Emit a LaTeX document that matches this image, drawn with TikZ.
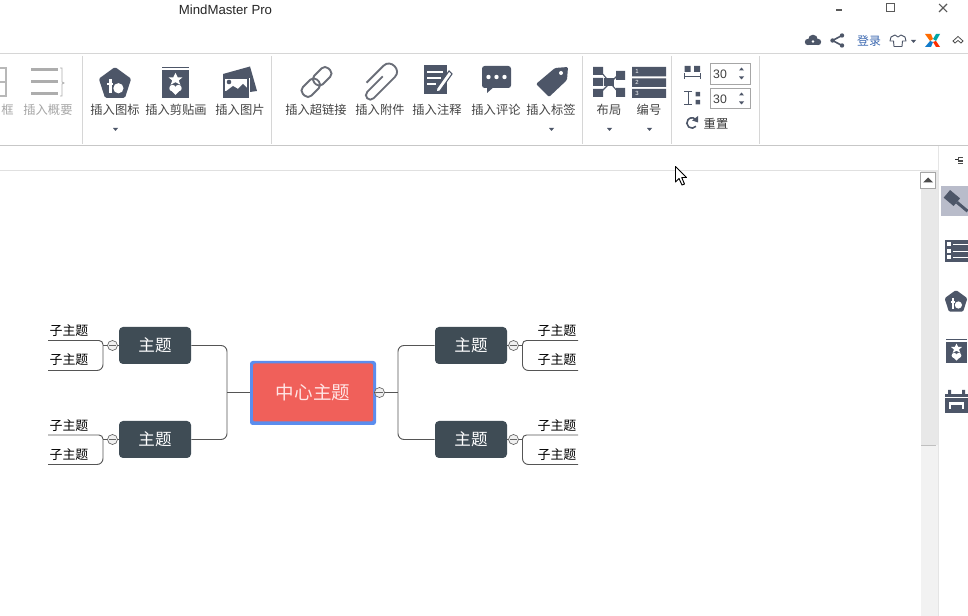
\documentclass[tikz,border=0pt]{standalone}
\usepackage{fontspec}
\setmainfont{Noto Sans CJK SC}
\newfontfamily\latinf{Liberation Sans}
\usetikzlibrary{shapes.geometric}
\definecolor{ic}{HTML}{4D5668}
\definecolor{icl}{HTML}{6A6E78}
\definecolor{topicc}{HTML}{3F4C55}
\definecolor{redc}{HTML}{F0605A}
\definecolor{bluec}{HTML}{5B8DEE}
\definecolor{sep}{HTML}{D6D6D6}
\definecolor{lab}{HTML}{444444}
\definecolor{lin}{HTML}{555555}
\definecolor{hilite}{HTML}{B9BCCA}
\definecolor{loginc}{HTML}{3A67B0}
\tikzset{
  x=0.75pt,y=-0.75pt,
  tb/.style={font=\fontsize{9.2pt}{10pt}\selectfont,text=lab,inner sep=0pt},
  tbg/.style={tb,text=black!35},
  topicbox/.style={fill=topicc,rounded corners=3pt,minimum width=54pt,minimum height=27.75pt,inner sep=0pt,text=white,font=\fontsize{12.4pt}{14pt}\selectfont},
  subt/.style={inner sep=0pt,font=\fontsize{9.7pt}{11pt}\selectfont,text=black},
  coll/.style={circle,draw=black!60,fill=black!6,line width=0.5pt,minimum size=7.5pt,inner sep=0pt},
  conn/.style={draw=lin,line width=0.7pt,rounded corners=4.5pt},
  sepl/.style={draw=sep,line width=0.7pt},
  iconl/.style={draw=icl,line width=1.4pt,fill=none},
}
\newcommand{\penticon}[3]{% cx cy r
  \fill[ic,rounded corners=1pt] (#1,#2-#3) -- (#1+0.95*#3,#2-0.31*#3) -- (#1+0.59*#3,#2+0.81*#3) -- (#1-0.59*#3,#2+0.81*#3) -- (#1-0.95*#3,#2-0.31*#3) -- cycle;
  \fill[white] (#1+0.2*#3,#2+0.25*#3) circle (0.3*#3);
  \fill[white] (#1-0.35*#3,#2-0.3*#3) rectangle (#1-0.2*#3,#2+0.55*#3);
  \fill[white] (#1-0.45*#3,#2-0.05*#3) rectangle (#1-0.1*#3,#2+0.05*#3);
}
\newcommand{\clipicon}[3]{% x y size
  \fill[ic] (#1,#2+#3*0.12) rectangle (#1+#3,#2+#3*1.15);
  \draw[ic,line width=0.7pt] (#1,#2) -- (#1+#3,#2);
  \fill[white] (#1+#3*0.5,#2+#3*0.22) -- (#1+#3*0.58,#2+#3*0.38) -- (#1+#3*0.76,#2+#3*0.38) -- (#1+#3*0.62,#2+#3*0.5) -- (#1+#3*0.68,#2+#3*0.66) -- (#1+#3*0.5,#2+#3*0.56) -- (#1+#3*0.32,#2+#3*0.66) -- (#1+#3*0.38,#2+#3*0.5) -- (#1+#3*0.24,#2+#3*0.38) -- (#1+#3*0.42,#2+#3*0.38) -- cycle;
  \fill[white] (#1+#3*0.39,#2+#3*0.78) circle (#3*0.12) (#1+#3*0.61,#2+#3*0.78) circle (#3*0.12);
  \fill[white] (#1+#3*0.28,#2+#3*0.82) -- (#1+#3*0.72,#2+#3*0.82) -- (#1+#3*0.5,#2+#3*1.03) -- cycle;
}
\newcommand{\tridown}[2]{\fill[ic] (#1-2.5,#2-1.5) -- (#1+2.5,#2-1.5) -- (#1,#2+1.5) -- cycle;}
\newcommand{\lowered}[1]{\raisebox{-0.6pt}{#1}}
\begin{document}
\begin{tikzpicture}
\useasboundingbox (0,0) rectangle (968,616);
\fill[white] (0,0) rectangle (968,616);
% window title
\node[inner sep=0pt,font=\latinf\fontsize{9.9pt}{11pt}\selectfont,text=black!85] (title) at (225.5,9.5) {MindMaster Pro};
% window buttons
\draw[black!65,line width=0.8pt] (836,10) -- (842,10);
\draw[black!65,line width=0.7pt] (886.5,3.5) rectangle (894.5,11.5);
\draw[black!65,line width=0.8pt] (939,4) -- (947,12) (947,4) -- (939,12);
% cloud, share, login, etc.
\fill[ic] (808,42) circle (3.2); \fill[ic] (813,39.5) circle (4.8); \fill[ic] (818,42) circle (3.2); \fill[ic] (808,42) rectangle (818,45.4);
\fill[white] (813,41.5) circle (1.3);
\draw[ic,line width=1.2pt] (842,35.5) -- (832.5,40.5) -- (842,45.5);
\fill[ic] (842,35.5) circle (2.2) (832.5,40.5) circle (2.2) (842,45.5) circle (2.2);
\node[inner sep=0pt,font=\fontsize{8.9pt}{10pt}\selectfont,text=loginc] (login) at (869,41) {登录};
\draw[ic,line width=0.7pt,line join=round] (891,37) -- (895,35) -- (898,37) -- (901,35) -- (905,37) -- (906,41) -- (902.5,41) -- (902,46.5) -- (894,46.5) -- (893.5,41) -- (890,41) -- cycle;
\fill[ic] (911,40) -- (916,40) -- (913.5,43) -- cycle;
% colourful logo
\fill[orange!85!red] (925,34) -- (931,34) -- (933,39) -- (930,41) -- cycle;
\fill[teal!70!cyan] (940,34) -- (936,34) -- (933,39) -- (936,41) -- cycle;
\fill[cyan!60!blue] (925,47) -- (931,47) -- (933,42) -- (930,41) -- cycle;
\fill[red!65!orange] (940,47) -- (936,47) -- (933,42) -- (936,41) -- cycle;
\draw[black!70,line width=0.6pt] (953,41) -- (958,36.5) -- (963,41) -- (961,43) -- (958,40.5) -- (955,43) -- cycle;
% horizontal frame lines
\draw[sepl] (0,53) -- (968,53);
\draw[black!22,line width=0.7pt] (0,145.5) -- (968,145.5);
\draw[black!12,line width=0.7pt] (0,170) -- (938,170);
% ribbon separators
\foreach \xx in {82.5,271.5,582.5,671.5,759.5} \draw[sepl] (\xx,56) -- (\xx,144);
% disabled items
\draw[black!28,line width=1.2pt] (-1,68) rectangle (6,96); \draw[black!28,line width=1.2pt] (-1,82) -- (6,82);
\node[tbg,anchor=east] (kuang) at (14,110) {框};
\foreach \yy in {70,82,94} \fill[black!32] (31,\yy-1.5) rectangle (58,\yy+1.5);
\draw[black!32,line width=0.6pt] (60,68) -- (62,68) -- (62,82) -- (64,83) -- (62,84) -- (62,96) -- (60,96);
\node[tbg] (gaiyao) at (48,110) {插入概要};
% insert icon, clipart, picture
\penticon{115}{84}{17}
\clipicon{162}{67}{27}
\fill[ic] (223,74) -- (250,66.5) -- (257,91) -- (250,92) -- (250,78) -- (223,78) -- cycle;
\fill[ic] (223,76) rectangle (249,98);
\fill[white] (225,79) rectangle (247,91);
\fill[ic] (225,92) -- (233,86) -- (238,89) -- (243,84) -- (247,88) -- (247,92) -- cycle;
\fill[ic] (229,82) circle (2.3);
\node[tb] (l1) at (115,110) {插入图标};
\node[tb] (l2) at (176,110) {插入剪贴画};
\node[tb] (l3) at (240,110) {插入图片};
\tridown{115.5}{129.5}
% link
\draw[iconl,rounded corners=3.5pt,rotate around={45:(316.5,82)}] (298.5,76) rectangle (318.5,88) (314.5,76) rectangle (334.5,88);
% paper clip
\begin{scope}[shift={(380,82)},rotate=45]
\draw[iconl] (6,-2) -- (-16,-2) .. controls (-22,-2) and (-22,7) .. (-16,7) -- (14,7) .. controls (24,7) and (24,-9) .. (14,-9) -- (-10,-9);
\end{scope}
% note
\fill[ic] (424,65) rectangle (447,94);
\draw[white,line width=1.1pt] (427,72) -- (443,72) (427,78) -- (441,78) (427,84) -- (436,84);
\draw[ic,line width=0.8pt,fill=white] (436,92) -- (437,88) -- (449,71) -- (452,74) -- (440,91) -- cycle;
% comment
\fill[ic,rounded corners=2pt] (482,66) rectangle (511,88);
\fill[ic] (487,86) -- (487,93) -- (495,86) -- cycle;
\fill[white] (488.5,77) circle (2.2) (496.5,77) circle (2.2) (504.5,77) circle (2.2);
% tag
\fill[ic,rounded corners=1pt] (536,84) -- (555,68) -- (568,67) -- (567,80) -- (549,97) -- cycle;
\fill[white] (561,73) circle (2);
\node[tb] (l4) at (316,110) {插入超链接};
\node[tb] (l5) at (380,110) {插入附件};
\node[tb] (l6) at (437,110) {插入注释};
\node[tb] (l7) at (496,110) {插入评论};
\node[tb] (l8) at (551,110) {插入标签};
\tridown{551.5}{129.5}
% layout
\fill[ic] (593,67) rectangle (603,75) (593,78) rectangle (603,86) (593,89) rectangle (603,97);
\fill[ic] (616,71) rectangle (625,80) (616,88) rectangle (625,97);
\fill[ic] (604,78) rectangle (614,86);
\draw[ic,line width=0.8pt] (601,72) -- (618,92) (601,92) -- (618,75);
% numbering
\fill[ic] (632,67) rectangle (666,76.5) (632,78.5) rectangle (666,87) (632,89) rectangle (666,98);
\node[inner sep=0pt,font=\latinf\fontsize{4.5pt}{5pt}\selectfont,text=white] (n1) at (637,71.8) {1};
\node[inner sep=0pt,font=\latinf\fontsize{4.5pt}{5pt}\selectfont,text=white] (n2) at (637,82.8) {2};
\node[inner sep=0pt,font=\latinf\fontsize{4.5pt}{5pt}\selectfont,text=white] (n3) at (637,93.5) {3};
\node[tb] (l9) at (609,110) {布局};
\node[tb] (l10) at (649,110) {编号};
\tridown{609.5}{129.5}
\tridown{649.5}{129.5}
% spacing
\fill[ic] (684.5,66) rectangle (690.5,72) (694,66) rectangle (700,72);
\draw[ic,line width=0.6pt] (684.5,73.5) -- (684.5,79.5) (684.5,76.5) -- (700,76.5) (700,73.5) -- (700,79.5);
\fill[ic] (695.5,92) rectangle (700,96.5) (695.5,100) rectangle (700,104.5);
\draw[ic,line width=0.6pt] (684,91) -- (692,91) (688,91) -- (688,104.5) (684,104.5) -- (692,104.5);
\draw[black!35,line width=0.5pt] (710.5,63.5) rectangle (750.5,84.5);
\draw[black!35,line width=0.5pt] (710.5,88.5) rectangle (750.5,108.5);
\node[inner sep=0pt,font=\latinf\fontsize{9.2pt}{11pt}\selectfont,text=black!75] (v1) at (720,74) {30};
\node[inner sep=0pt,font=\latinf\fontsize{9.2pt}{11pt}\selectfont,text=black!75] (v2) at (720,99) {30};
\foreach \yy in {69,94} {\fill[ic] (739,\yy+1.5) -- (744,\yy+1.5) -- (741.5,\yy-1.5) -- cycle;}
\foreach \yy in {78,103} {\fill[ic] (739,\yy-1.5) -- (744,\yy-1.5) -- (741.5,\yy+1.5) -- cycle;}
\draw[ic,line width=1.2pt] (696,126.3) arc[start angle=40,end angle=320,radius=5.2];
\fill[ic] (698,116) -- (698,122.5) -- (692,120.5) -- cycle;
\node[tb,text=black!80] (chongzhi) at (716,124) {重置};
% cursor
\draw[black,line width=0.7pt,fill=white,line join=round] (675.5,166.5) -- (675.5,182) -- (679,178.5) -- (682,185) -- (684.5,184) -- (681.7,177.5) -- (686.5,177.5) -- cycle;
% scrollbar
\fill[black!9] (921,170) rectangle (938,445);
\fill[black!5] (921,445) rectangle (938,616);
\draw[black!25,line width=0.6pt] (921,445) -- (936,445);
\fill[white] (920.5,172) rectangle (935.5,188);
\draw[black!35,line width=0.5pt] (920.5,172) rectangle (935.5,188);
\fill[black!70] (923,182.5) -- (928,177.5) -- (933,182.5) -- cycle;
% sidebar
\fill[white] (938,146) rectangle (968,616);
\draw[black!10,line width=0.6pt] (938.5,146) -- (938.5,616);
\draw[black!80,line width=0.6pt] (955,159.5) -- (958,159.5);
\fill[black!70] (958,157) rectangle (963,162);
\fill[white] (959,158) rectangle (962.5,160.5);
\draw[black!70,line width=0.6pt] (958,163) -- (963,163);
\fill[hilite] (941,186) rectangle (968,216);
\fill[ic,rotate around={-40:(953,199)}] (945,194) rectangle (958,204);
\fill[ic,rotate around={-40:(953,199)}] (958,197.5) rectangle (972,200.5);
\fill[ic] (945,240) rectangle (968,262);
\foreach \yy in {244,251,257} {\fill[white] (947,\yy-2) rectangle (951,\yy+2); \draw[white,line width=0.7pt] (953,\yy) -- (968,\yy);}
\penticon{956}{302}{12}
\clipicon{946}{339}{21}
\fill[ic] (945,394) rectangle (968,413);
\fill[ic] (948,390) rectangle (951,396) (962,390) rectangle (965,396);
\draw[white,line width=0.6pt] (945,397) -- (968,397);
\fill[white] (949,402) rectangle (964,405);
\fill[white] (949,402) rectangle (951,409);
\fill[white] (962,402) rectangle (964,409);
% mind map
\node[fill=bluec,rounded corners=2pt,minimum width=94.5pt,minimum height=48pt,inner sep=0pt] (outer) at (313,393) {};
\node[fill=redc,rounded corners=1.5pt,minimum width=90pt,minimum height=43.5pt,inner sep=0pt,text=white!90!red,font=\fontsize{13.9pt}{16pt}\selectfont] (center) at (313,392.5) {中心主题};
\node[topicbox] (t1) at (155,345.5) {\lowered{主题}};
\node[topicbox] (t2) at (155,439.5) {\lowered{主题}};
\node[topicbox] (t3) at (471,345.5) {\lowered{主题}};
\node[topicbox] (t4) at (471,439.5) {\lowered{主题}};
\node[coll] (c0) at (379.5,392.5) {};
\node[coll] (c1) at (112.5,345.5) {};
\node[coll] (c2) at (112.5,439.5) {};
\node[coll] (c3) at (513.5,345.5) {};
\node[coll] (c4) at (513.5,439.5) {};
\foreach \cc in {c0,c1,c2,c3,c4} \draw[black!60,line width=0.5pt] ([xshift=-2.5pt]\cc.center) -- ([xshift=2.5pt]\cc.center);
% coordinates
\coordinate (jl) at (227,392.5);
\coordinate (jr) at (398,392.5);
\draw[conn] (outer.west |- jl) -- (jl);
\draw[conn] (t1.east) -| (jl);
\draw[conn] (t2.east) -| (jl);
\draw[conn] (c0.east) -- (jr);
\draw[conn] (t3.west) -| (jr);
\draw[conn] (t4.west) -| (jr);
\draw[conn] (outer.east) -- (c0.west);
\draw[conn] (t1.west) -- (c1.east);
\draw[conn] (t2.west) -- (c2.east);
\draw[conn] (t3.east) -- (c3.west);
\draw[conn] (t4.east) -- (c4.west);
% subtopics
\coordinate (a1) at (48,340.5); \coordinate (a2) at (48,370.5);
\coordinate (a3) at (48,435); \coordinate (a4) at (48,464.5);
\coordinate (b1) at (578,340.5); \coordinate (b2) at (578,370.5);
\coordinate (b3) at (578,435); \coordinate (b4) at (578,464.5);
\coordinate (j1) at (103,345.5); \coordinate (j2) at (103,439.5);
\coordinate (j3) at (522.5,345.5); \coordinate (j4) at (522.5,439.5);
\draw[conn] (c1.west) -- (j1);
\draw[conn] (c2.west) -- (j2);
\draw[conn] (c3.east) -- (j3);
\draw[conn] (c4.east) -- (j4);
\draw[conn,rounded corners=3pt] (a1) -| (j1); \draw[conn] (a2) -| (j1);
\draw[conn,rounded corners=3pt] (a3) -| (j2); \draw[conn] (a4) -| (j2);
\draw[conn,rounded corners=3pt] (b1) -| (j3); \draw[conn] (b2) -| (j3);
\draw[conn,rounded corners=3pt] (b3) -| (j4); \draw[conn] (b4) -| (j4);
\node[subt] (s1) at (69,330.5) {子主题};
\node[subt] (s2) at (69,359.5) {子主题};
\node[subt] (s3) at (69,425.5) {子主题};
\node[subt] (s4) at (69,454.5) {子主题};
\node[subt] (s5) at (557,330.5) {子主题};
\node[subt] (s6) at (557,359.5) {子主题};
\node[subt] (s7) at (557,425.5) {子主题};
\node[subt] (s8) at (557,454.5) {子主题};
\end{tikzpicture}
\end{document}
